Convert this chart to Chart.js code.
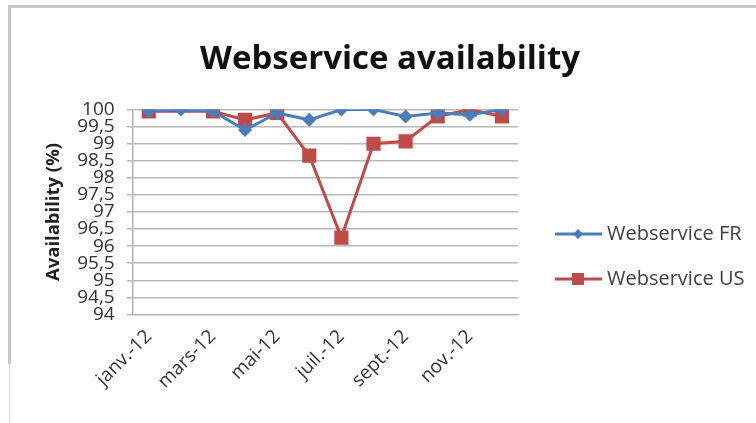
<!DOCTYPE html>
<html lang="fr">
  <head>
    <meta charset="UTF-8" />
    <title>Webservice availability</title>
    <style>
      body {
        margin: 0;
        background: #fff;
      }

      /* grey frame of the original screenshot */
      .frame {
        position: absolute;
        left: 8px;
        top: 5px;
        width: 760px;
        height: 356px;
        border-top: 3px solid #c6c6c6;
        border-left: 3px solid #c6c6c6;
      }

      .frame-low {
        position: absolute;
        left: 9px;
        top: 364px;
        height: 60px;
        border-left: 1px solid #d4d4d4;
      }

      .wrap {
        position: absolute;
        left: 0;
        top: 0;
        width: 756px;
        height: 423px;
      }
    </style>
    <script src="https://cdn.jsdelivr.net/npm/chart.js"></script>
  </head>
  <body>
    <div class="frame"></div>
    <div class="frame-low"></div>
    <div class="wrap"><canvas id="chart"></canvas></div>

    <script>
      const months = [
        'janv.-12', 'févr.-12', 'mars-12', 'avr.-12', 'mai-12', 'juin-12',
        'juil.-12', 'août-12', 'sept.-12', 'oct.-12', 'nov.-12', 'déc.-12',
      ];
      const webserviceFR = [99.95, 100, 99.95, 99.4, 99.9, 99.7, 100, 100, 99.8, 99.9, 99.85, 100];
      const webserviceUS = [99.95, null, 99.95, 99.7, 99.9, 98.65, 96.25, 99.0, 99.07, 99.8, 100, 99.8];
      const yMin = 94;
      const yMax = 100;
      const yStep = 0.5;

      const blue = '#4a7ebb';
      const red = '#be4b48';
      const font = '"Open Sans", "DejaVu Sans", sans-serif';

      // Excel-like legend on the right: line with marker, then the label.
      // Drawn by hand because the built-in one is capped at a narrow width.
      const sideLegend = {
        id: 'sideLegend',
        afterDraw(chart) {
          const { ctx, chartArea } = chart;
          const x0 = chartArea.right + 37;
          const mid = (chartArea.top + chartArea.bottom) / 2;
          chart.data.datasets.forEach((ds, i) => {
            const y = mid + 22 + i * 45;
            const cx = x0 + 23;
            ctx.save();
            ctx.strokeStyle = ds.borderColor;
            ctx.lineWidth = 3;
            ctx.beginPath();
            ctx.moveTo(x0, y);
            ctx.lineTo(x0 + 47, y);
            ctx.stroke();
            ctx.fillStyle = ds.backgroundColor;
            ctx.beginPath();
            if (ds.pointStyle === 'rectRot') {
              ctx.moveTo(cx, y - 5);
              ctx.lineTo(cx + 5, y);
              ctx.lineTo(cx, y + 5);
              ctx.lineTo(cx - 5, y);
            } else {
              ctx.rect(cx - 6, y - 6, 12, 12);
            }
            ctx.fill();
            ctx.fillStyle = '#404040';
            ctx.font = '20px ' + font;
            ctx.textBaseline = 'middle';
            ctx.fillText(ds.label, x0 + 52, y);
            ctx.restore();
          });
        },
      };

      new Chart(document.getElementById('chart'), {
        type: 'line',
        data: {
          labels: months,
          datasets: [
            {
              label: 'Webservice FR',
              data: webserviceFR,
              borderColor: blue,
              backgroundColor: blue,
              borderWidth: 3,
              pointStyle: 'rectRot',
              pointRadius: 7,
              pointBorderWidth: 0,
              tension: 0,
            },
            {
              label: 'Webservice US',
              data: webserviceUS,
              borderColor: red,
              backgroundColor: red,
              borderWidth: 3,
              pointStyle: 'rect',
              pointRadius: 10,
              pointBorderWidth: 0,
              spanGaps: true,
              tension: 0,
            },
          ],
        },
        options: {
          responsive: true,
          maintainAspectRatio: false,
          animation: false,
          layout: {
            padding: { left: 43, right: 19, top: 0, bottom: 27 },
          },
          plugins: {
            title: {
              display: true,
              text: 'Webservice availability',
              color: '#111',
              font: { family: font, size: 33, weight: 'bold' },
              padding: { top: 40, bottom: 30 },
            },
            legend: { display: false },
            tooltip: { enabled: false },
          },
          scales: {
            x: {
              offset: true,
              grid: { display: false },
              border: { color: '#b0b0b0' },
              ticks: {
                autoSkip: false,
                minRotation: 45,
                maxRotation: 45,
                color: '#333',
                font: { family: font, size: 19 },
                callback(value, index) {
                  return index % 2 === 0 ? months[index] : '';
                },
              },
            },
            y: {
              min: yMin,
              max: yMax,
              grid: { color: '#b8b8b8', lineWidth: 1.5, tickLength: 6 },
              border: { color: '#b0b0b0', width: 1.5 },
              title: {
                display: true,
                text: 'Availability (%)',
                color: '#222',
                font: { family: font, size: 18.5, weight: 'bold' },
                padding: { top: 0, bottom: 0 },
              },
              ticks: {
                stepSize: yStep,
                autoSkip: false,
                padding: 12,
                color: '#333',
                font: { family: font, size: 19 },
                callback: (v) => String(v).replace('.', ','),
              },
            },
            // empty room on the right where the legend is drawn
            legendRoom: {
              position: 'right',
              grid: { display: false },
              border: { display: false },
              ticks: { display: false },
              afterFit(scale) {
                scale.width = 219;
              },
            },
          },
        },
        plugins: [sideLegend],
      });
    </script>
  </body>
</html>
